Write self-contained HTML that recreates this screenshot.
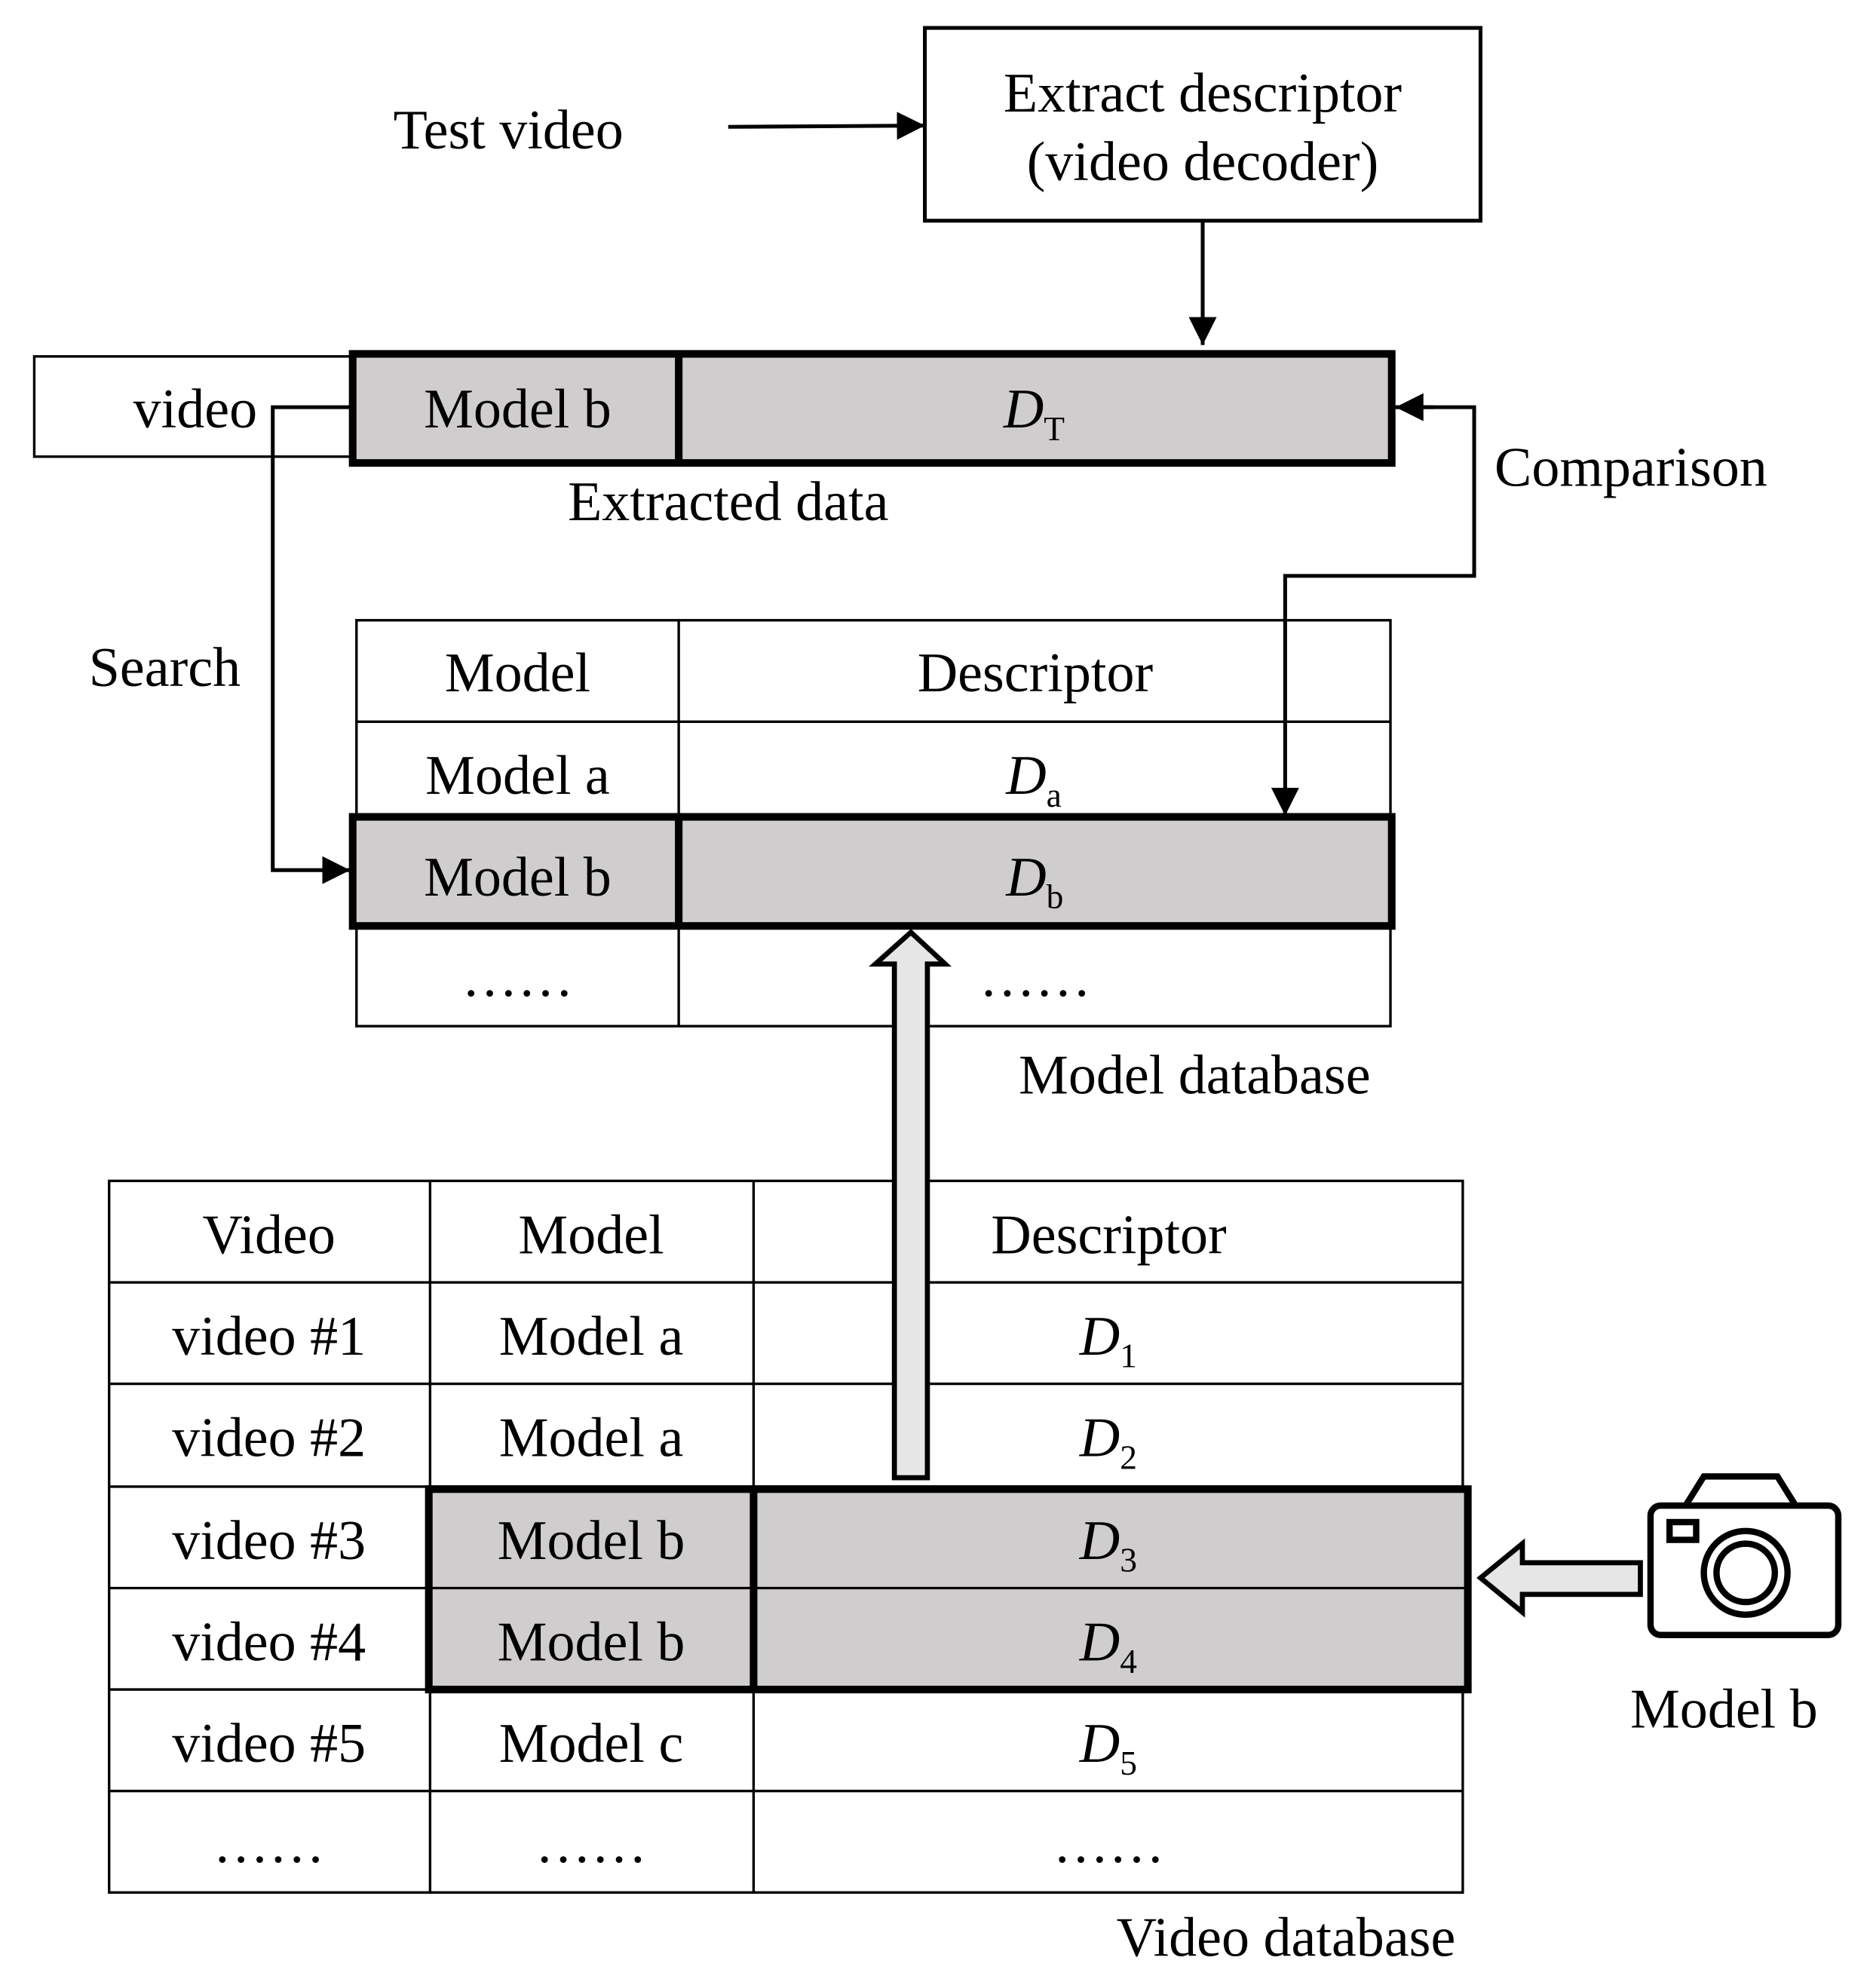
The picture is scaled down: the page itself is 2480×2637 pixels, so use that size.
<!DOCTYPE html>
<html><head><meta charset="utf-8"><style>
html,body{margin:0;padding:0;background:#fff}
svg{display:block}
text{font-family:"Liberation Serif",serif;font-size:44px;fill:#000}
.c{text-anchor:middle}
</style></head><body>
<svg width="2480" height="2637" viewBox="0 0 1474 1567.3" xmlns="http://www.w3.org/2000/svg">
<defs><marker id="b" viewBox="0 0 10 10" refX="10" refY="5" markerWidth="22" markerHeight="22" markerUnits="userSpaceOnUse" orient="auto"><path d="M0,0L10,5L0,10z" fill="#000"/></marker></defs>
<rect x="729" y="22" width="438" height="152" fill="none" stroke="#000" stroke-width="3"/>
<text class="c" x="948" y="88">Extract descriptor</text>
<text class="c" x="948" y="142">(video decoder)</text>
<text x="310" y="117">Test video</text>
<line x1="574" y1="100" x2="729" y2="99" stroke="#000" stroke-width="3" marker-end="url(#b)"/>
<line x1="948" y1="174" x2="948" y2="272" stroke="#000" stroke-width="3" marker-end="url(#b)"/>
<rect x="27" y="281" width="251" height="79" fill="#fff" stroke="#000" stroke-width="2"/>
<text x="105" y="337">video</text>
<rect x="278" y="279" width="819" height="86" fill="#d0cdce" stroke="#000" stroke-width="6"/>
<line x1="535" y1="279" x2="535" y2="365" stroke="#000" stroke-width="6"/>
<text class="c" x="408" y="337">Model b</text>
<text x="791" y="337" font-style="italic">D<tspan font-size="27" dy="10" font-style="normal">T</tspan></text>
<text class="c" x="574" y="410">Extracted data</text>
<polyline points="278,321 215,321 215,686 276,686" fill="none" stroke="#000" stroke-width="3" marker-end="url(#b)"/>
<text x="70" y="541">Search</text>
<polyline points="1100,321 1162,321 1162,454 1013,454 1013,641" fill="none" stroke="#000" stroke-width="3"/>
<line x1="1130" y1="321" x2="1100" y2="321" stroke="#000" stroke-width="3" marker-end="url(#b)"/>
<line x1="1013" y1="620" x2="1013" y2="643" stroke="#000" stroke-width="3" marker-end="url(#b)"/>
<text x="1178" y="383">Comparison</text>
<g stroke="#000" stroke-width="2" fill="none">
<rect x="281" y="489" width="815" height="320"/>
<line x1="281" y1="569" x2="1096" y2="569"/>
<line x1="281" y1="729" x2="1096" y2="729"/>
<line x1="535" y1="489" x2="535" y2="809"/>
</g>
<rect x="278" y="644" width="819" height="86" fill="#d0cdce" stroke="#000" stroke-width="6"/>
<line x1="535" y1="644" x2="535" y2="730" stroke="#000" stroke-width="6"/>
<text class="c" x="408" y="545">Model</text>
<text class="c" x="816" y="545">Descriptor</text>
<text class="c" x="408" y="626">Model a</text>
<text x="793" y="626" font-style="italic">D<tspan font-size="27" dy="10" font-style="normal">a</tspan></text>
<text class="c" x="408" y="706">Model b</text>
<text x="793" y="706" font-style="italic">D<tspan font-size="27" dy="10" font-style="normal">b</tspan></text>
<text class="c" x="408" y="785">……</text>
<text class="c" x="816" y="785">……</text>
<text x="803" y="862">Model database</text>
<g stroke="#000" stroke-width="2" fill="none">
<rect x="86" y="931" width="1067" height="561"/>
<line x1="86" y1="1011" x2="1153" y2="1011"/>
<line x1="86" y1="1091" x2="1153" y2="1091"/>
<line x1="86" y1="1172" x2="1153" y2="1172"/>
<line x1="86" y1="1252" x2="1153" y2="1252"/>
<line x1="86" y1="1332" x2="1153" y2="1332"/>
<line x1="86" y1="1412" x2="1153" y2="1412"/>
<line x1="339" y1="931" x2="339" y2="1492"/>
<line x1="594" y1="931" x2="594" y2="1492"/>
</g>
<rect x="338" y="1174" width="819" height="158" fill="#d0cdce" stroke="#000" stroke-width="6"/>
<line x1="594" y1="1174" x2="594" y2="1332" stroke="#000" stroke-width="6"/>
<line x1="338" y1="1252" x2="1157" y2="1252" stroke="#000" stroke-width="2"/>
<path d="M705,1165 L705,760 L690,760 L718,735 L745,760 L731,760 L731,1165 Z" fill="#e6e6e6" stroke="#000" stroke-width="4"/>
<g>
<text class="c" x="212" y="988">Video</text>
<text class="c" x="466" y="988">Model</text>
<text class="c" x="874" y="988">Descriptor</text>
<text class="c" x="212" y="1068">video #1</text><text class="c" x="466" y="1068">Model a</text>
<text x="851" y="1068" font-style="italic">D<tspan font-size="27" dy="10" font-style="normal">1</tspan></text>
<text class="c" x="212" y="1148">video #2</text><text class="c" x="466" y="1148">Model a</text>
<text x="851" y="1148" font-style="italic">D<tspan font-size="27" dy="10" font-style="normal">2</tspan></text>
<text class="c" x="212" y="1229">video #3</text><text class="c" x="466" y="1229">Model b</text>
<text x="851" y="1229" font-style="italic">D<tspan font-size="27" dy="10" font-style="normal">3</tspan></text>
<text class="c" x="212" y="1309">video #4</text><text class="c" x="466" y="1309">Model b</text>
<text x="851" y="1309" font-style="italic">D<tspan font-size="27" dy="10" font-style="normal">4</tspan></text>
<text class="c" x="212" y="1389">video #5</text><text class="c" x="466" y="1389">Model c</text>
<text x="851" y="1389" font-style="italic">D<tspan font-size="27" dy="10" font-style="normal">5</tspan></text>
<text class="c" x="212" y="1468">……</text><text class="c" x="466" y="1468">……</text><text class="c" x="874" y="1468">……</text>
</g>
<text x="880" y="1542">Video database</text>
<path d="M1293,1232 L1200,1232 L1200,1217 L1167,1244 L1200,1271 L1200,1257 L1293,1257 Z" fill="#e6e6e6" stroke="#000" stroke-width="4"/>
<g fill="none" stroke="#000" stroke-width="5">
<path d="M1328,1188 L1343,1164 L1401,1164 L1416,1188"/>
<rect x="1301" y="1187" width="148" height="102" rx="8"/>
<rect x="1316" y="1200" width="21" height="14"/>
<circle cx="1376" cy="1240" r="33"/>
<circle cx="1376" cy="1240" r="23"/>
</g>
<text x="1285" y="1362">Model b</text>
</svg>
</body></html>
